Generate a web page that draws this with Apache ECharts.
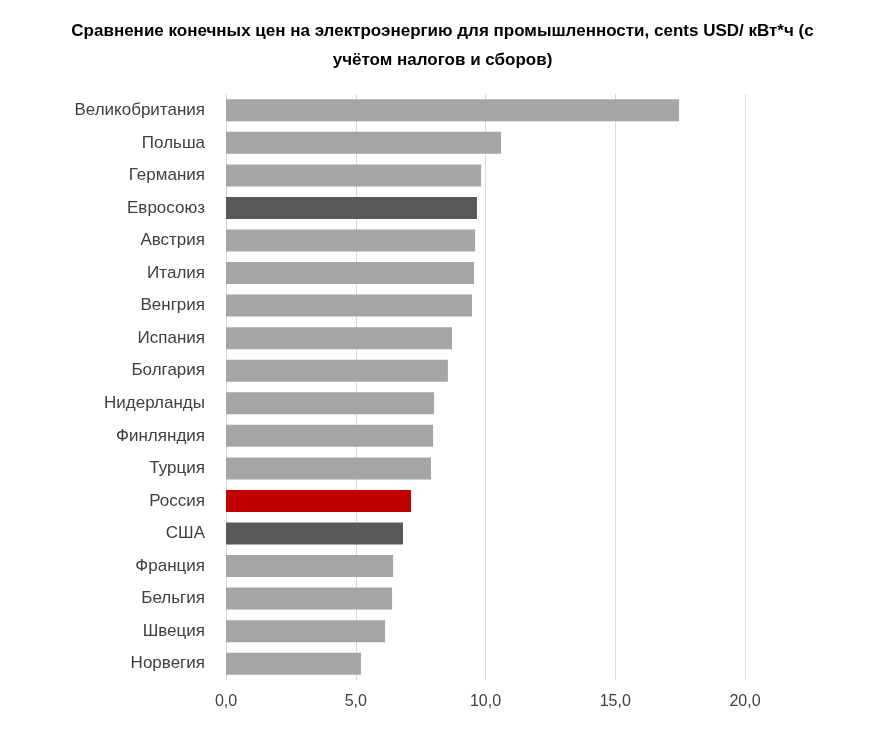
<!DOCTYPE html>
<html><head><meta charset="utf-8">
<script src="https://cdn.jsdelivr.net/npm/echarts@6/dist/echarts.min.js"></script>
<style>html,body{margin:0;padding:0;background:#fff}#c{width:885px;height:733px}</style>
</head><body><div id="c"></div>
<script>
const categories = ["Великобритания","Польша","Германия","Евросоюз","Австрия","Италия","Венгрия","Испания","Болгария","Нидерланды","Финляндия","Турция","Россия","США","Франция","Бельгия","Швеция","Норвегия"];
const values = [17.46,10.6,9.83,9.67,9.6,9.56,9.48,8.71,8.55,8.02,7.98,7.9,7.13,6.82,6.44,6.4,6.13,5.2];
const highlightDark = ["Евросоюз","США"];
const highlightRed = ["Россия"];
const chart = echarts.init(document.getElementById('c'));
chart.setOption({
  animation:false,
  title:{text:"Сравнение конечных цен на электроэнергию для промышленности, cents USD/ кВт*ч (с\nучётом налогов и сборов)",left:'center',top:12,
    textStyle:{fontFamily:'Liberation Sans, Arial',fontSize:17,fontWeight:'bold',color:'#000',lineHeight:29}},
  grid:{left:226,right:140,top:94,bottom:53},
  xAxis:{type:'value',min:0,max:20,interval:5,
    axisLabel:{formatter:v=>v.toFixed(1).replace('.',','),fontFamily:'Liberation Sans, Arial',fontSize:16,color:'#404040',margin:14},
    splitLine:{lineStyle:{color:'#d9d9d9'}},axisLine:{show:false},axisTick:{show:false}},
  yAxis:{type:'category',data:categories,inverse:true,
    axisLabel:{fontFamily:'Liberation Sans, Arial',fontSize:17,color:'#404040',margin:21},
    axisLine:{show:false},axisTick:{show:false}},
  series:[{type:'bar',barWidth:22,
    data:values.map((v,i)=>({value:v,itemStyle:{color:highlightRed.includes(categories[i])?'#c00000':highlightDark.includes(categories[i])?'#595959':'#a5a5a5'}}))}]
});
</script></body></html>
